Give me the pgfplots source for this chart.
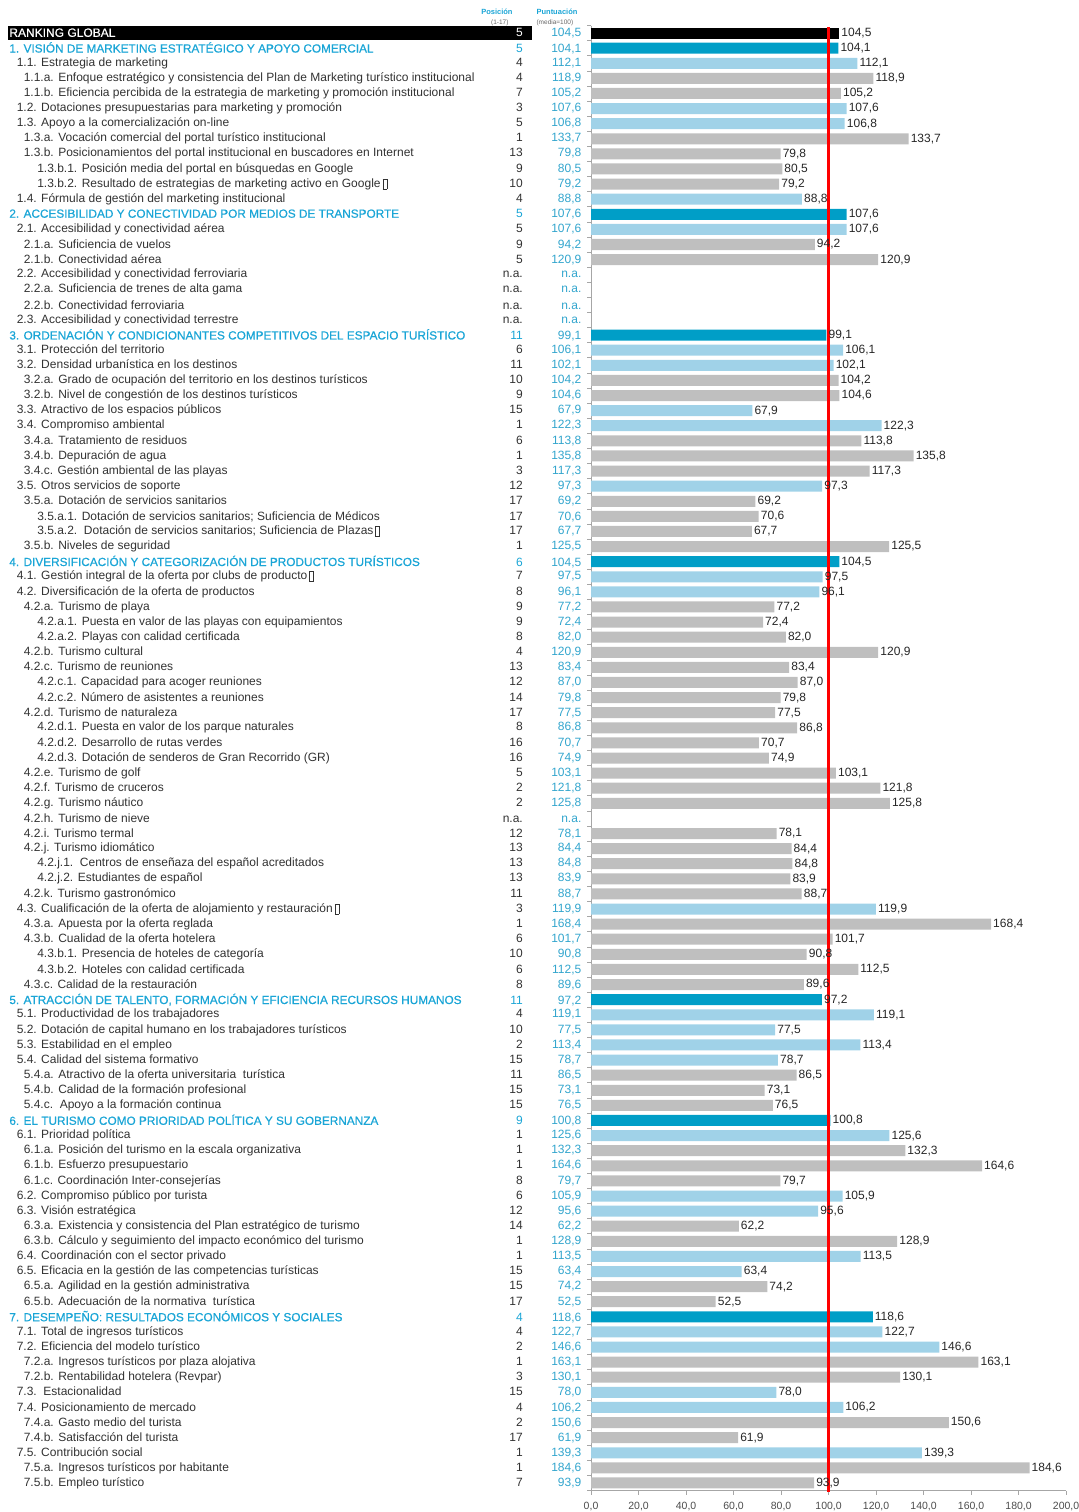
\documentclass[border=0pt]{standalone}
\usepackage{pgfplots}
\pgfplotsset{compat=1.18}
\usepackage{fontspec}
\setmainfont{Liberation Sans}
\definecolor{hdrbar}{RGB}{0,158,199}
\definecolor{lightbar}{RGB}{160,210,232}
\definecolor{graybar}{RGB}{191,191,191}
\definecolor{hblue}{RGB}{26,165,214}
\definecolor{sblue}{RGB}{50,165,205}
\definecolor{txt}{RGB}{50,50,50}
\newcommand{\nb}{\,\raisebox{-1.5pt}{\fboxsep=0pt\fboxrule=0.5pt\fbox{\rule{0pt}{9.5pt}\hspace{3.5pt}}}}
\newcommand{\rowL}[4]{\makebox[515pt][l]{\color{txt}\hspace*{#1}#2\hfill#3}\makebox[58.5pt][r]{\color{sblue}#4}}
\newcommand{\rA}[3]{\rowL{9pt}{#1}{#2}{#3}}
\newcommand{\rB}[3]{\rowL{16pt}{#1}{#2}{#3}}
\newcommand{\rC}[3]{\rowL{29.5pt}{#1}{#2}{#3}}
\newcommand{\rH}[3]{\makebox[515pt][l]{\color{hblue}\hspace*{1.6pt}{\fontsize{11.8}{13}\selectfont\addfontfeature{FakeBold=0.6}#1}\hfill#2}\makebox[58.5pt][r]{\color{sblue}#3}}
\newcommand{\rG}{\makebox[515pt][l]{\rlap{\color{black}\rule[-3pt]{524pt}{13.5pt}}\color{white}\hspace*{1.6pt}{\addfontfeature{FakeBold=0.6}RANKING GLOBAL}\hfill 5}\makebox[58.5pt][r]{\color{sblue}104,5}}
\begin{document}
\begin{tikzpicture}
\begin{axis}[
  scale only axis,
  width=475pt, height=1465pt,
  xmin=0, xmax=200,
  ymin=0.5, ymax=97.5,
  y dir=reverse,
  xbar, bar width=11pt, bar shift=0pt,
  clip=false,
  axis lines*=left,
  axis line style={draw=gray!70, line width=0.8pt, -},
  tick align=outside,
  major tick length=0pt,
  minor tick length=4pt,
  every tick/.style={draw=gray!70, line width=0.6pt},
  xtick={0,20,...,200},
  minor xtick={0,20,...,200},
  ytick={1,...,97},
  minor ytick={0.5,1.5,...,97.5},
  xticklabel style={font=\fontsize{10.5}{12}\selectfont, text=black!70, yshift=-8pt, /pgf/number format/.cd, fixed, fixed zerofill, precision=1, use comma, assume math mode=true},
  yticklabel style={font=\fontsize{12}{14}\selectfont, anchor=east, inner sep=0pt, xshift=-9.5pt},
  point meta=x,
  nodes near coords={\pgfmathprintnumber[fixed,fixed zerofill,precision=1,use comma,assume math mode=true]{\pgfplotspointmeta}},
  every node near coord/.append style={font=\fontsize{12}{14}\selectfont, text=black!85, inner sep=2pt},
  yticklabels={
{\rG},
{\rH{1. VISIÓN DE MARKETING ESTRATÉGICO Y APOYO COMERCIAL}{5}{104,1}},
{\rA{1.1. Estrategia de marketing}{4}{112,1}},
{\rB{1.1.a. Enfoque estratégico y consistencia del Plan de Marketing turístico institucional}{4}{118,9}},
{\rB{1.1.b. Eficiencia percibida de la estrategia de marketing y promoción institucional}{7}{105,2}},
{\rA{1.2. Dotaciones presupuestarias para marketing y promoción}{3}{107,6}},
{\rA{1.3. Apoyo a la comercialización on-line}{5}{106,8}},
{\rB{1.3.a. Vocación comercial del portal turístico institucional}{1}{133,7}},
{\rB{1.3.b. Posicionamientos del portal institucional en buscadores en Internet}{13}{79,8}},
{\rC{1.3.b.1. Posición media del portal en búsquedas en Google}{9}{80,5}},
{\rC{1.3.b.2. Resultado de estrategias de marketing activo en Google\nb}{10}{79,2}},
{\rA{1.4. Fórmula de gestión del marketing institucional}{4}{88,8}},
{\rH{2. ACCESIBILIDAD Y CONECTIVIDAD POR MEDIOS DE TRANSPORTE}{5}{107,6}},
{\rA{2.1. Accesibilidad y conectividad aérea}{5}{107,6}},
{\rB{2.1.a. Suficiencia de vuelos}{9}{94,2}},
{\rB{2.1.b. Conectividad aérea}{5}{120,9}},
{\rA{2.2. Accesibilidad y conectividad ferroviaria}{n.a.}{n.a.}},
{\rB{2.2.a. Suficiencia de trenes de alta gama}{n.a.}{n.a.}},
{\rB{2.2.b. Conectividad ferroviaria}{n.a.}{n.a.}},
{\rA{2.3. Accesibilidad y conectividad terrestre}{n.a.}{n.a.}},
{\rH{3. ORDENACIÓN Y CONDICIONANTES COMPETITIVOS DEL ESPACIO TURÍSTICO}{11}{99,1}},
{\rA{3.1. Protección del territorio}{6}{106,1}},
{\rA{3.2. Densidad urbanística en los destinos}{11}{102,1}},
{\rB{3.2.a. Grado de ocupación del territorio en los destinos turísticos}{10}{104,2}},
{\rB{3.2.b. Nivel de congestión de los destinos turísticos}{9}{104,6}},
{\rA{3.3. Atractivo de los espacios públicos}{15}{67,9}},
{\rA{3.4. Compromiso ambiental}{1}{122,3}},
{\rB{3.4.a. Tratamiento de residuos}{6}{113,8}},
{\rB{3.4.b. Depuración de agua}{1}{135,8}},
{\rB{3.4.c. Gestión ambiental de las playas}{3}{117,3}},
{\rA{3.5. Otros servicios de soporte}{12}{97,3}},
{\rB{3.5.a. Dotación de servicios sanitarios}{17}{69,2}},
{\rC{3.5.a.1. Dotación de servicios sanitarios; Suficiencia de Médicos}{17}{70,6}},
{\rC{3.5.a.2.\ \ Dotación de servicios sanitarios; Suficiencia de Plazas\nb}{17}{67,7}},
{\rB{3.5.b. Niveles de seguridad}{1}{125,5}},
{\rH{4. DIVERSIFICACIÓN Y CATEGORIZACIÓN DE PRODUCTOS TURÍSTICOS}{6}{104,5}},
{\rA{4.1. Gestión integral de la oferta por clubs de producto\nb}{7}{97,5}},
{\rA{4.2. Diversificación de la oferta de productos}{8}{96,1}},
{\rB{4.2.a. Turismo de playa}{9}{77,2}},
{\rC{4.2.a.1. Puesta en valor de las playas con equipamientos}{9}{72,4}},
{\rC{4.2.a.2. Playas con calidad certificada}{8}{82,0}},
{\rB{4.2.b. Turismo cultural}{4}{120,9}},
{\rB{4.2.c. Turismo de reuniones}{13}{83,4}},
{\rC{4.2.c.1. Capacidad para acoger reuniones}{12}{87,0}},
{\rC{4.2.c.2. Número de asistentes a reuniones}{14}{79,8}},
{\rB{4.2.d. Turismo de naturaleza}{17}{77,5}},
{\rC{4.2.d.1. Puesta en valor de los parque naturales}{8}{86,8}},
{\rC{4.2.d.2. Desarrollo de rutas verdes}{16}{70,7}},
{\rC{4.2.d.3. Dotación de senderos de Gran Recorrido (GR)}{16}{74,9}},
{\rB{4.2.e. Turismo de golf}{5}{103,1}},
{\rB{4.2.f. Turismo de cruceros}{2}{121,8}},
{\rB{4.2.g. Turismo náutico}{2}{125,8}},
{\rB{4.2.h. Turismo de nieve}{n.a.}{n.a.}},
{\rB{4.2.i. Turismo termal}{12}{78,1}},
{\rB{4.2.j. Turismo idiomático}{13}{84,4}},
{\rC{4.2.j.1.\ \ Centros de enseñaza del español acreditados}{13}{84,8}},
{\rC{4.2.j.2. Estudiantes de español}{13}{83,9}},
{\rB{4.2.k. Turismo gastronómico}{11}{88,7}},
{\rA{4.3. Cualificación de la oferta de alojamiento y restauración\nb}{3}{119,9}},
{\rB{4.3.a. Apuesta por la oferta reglada}{1}{168,4}},
{\rB{4.3.b. Cualidad de la oferta hotelera}{6}{101,7}},
{\rC{4.3.b.1. Presencia de hoteles de categoría}{10}{90,8}},
{\rC{4.3.b.2. Hoteles con calidad certificada}{6}{112,5}},
{\rB{4.3.c. Calidad de la restauración}{8}{89,6}},
{\rH{5. ATRACCIÓN DE TALENTO, FORMACIÓN Y EFICIENCIA RECURSOS HUMANOS}{11}{97,2}},
{\rA{5.1. Productividad de los trabajadores}{4}{119,1}},
{\rA{5.2. Dotación de capital humano en los trabajadores turísticos}{10}{77,5}},
{\rA{5.3. Estabilidad en el empleo}{2}{113,4}},
{\rA{5.4. Calidad del sistema formativo}{15}{78,7}},
{\rB{5.4.a. Atractivo de la oferta universitaria\ \ turística}{11}{86,5}},
{\rB{5.4.b. Calidad de la formación profesional}{15}{73,1}},
{\rB{5.4.c.\ \ Apoyo a la formación continua}{15}{76,5}},
{\rH{6. EL TURISMO COMO PRIORIDAD POLÍTICA Y SU GOBERNANZA}{9}{100,8}},
{\rA{6.1. Prioridad política}{1}{125,6}},
{\rB{6.1.a. Posición del turismo en la escala organizativa}{1}{132,3}},
{\rB{6.1.b. Esfuerzo presupuestario}{1}{164,6}},
{\rB{6.1.c. Coordinación Inter-consejerías}{8}{79,7}},
{\rA{6.2. Compromiso público por turista}{6}{105,9}},
{\rA{6.3. Visión estratégica}{12}{95,6}},
{\rB{6.3.a. Existencia y consistencia del Plan estratégico de turismo}{14}{62,2}},
{\rB{6.3.b. Cálculo y seguimiento del impacto económico del turismo}{1}{128,9}},
{\rA{6.4. Coordinación con el sector privado}{1}{113,5}},
{\rA{6.5. Eficacia en la gestión de las competencias turísticas}{15}{63,4}},
{\rB{6.5.a. Agilidad en la gestión administrativa}{15}{74,2}},
{\rB{6.5.b. Adecuación de la normativa\ \ turística}{17}{52,5}},
{\rH{7. DESEMPEÑO: RESULTADOS ECONÓMICOS Y SOCIALES}{4}{118,6}},
{\rA{7.1. Total de ingresos turísticos}{4}{122,7}},
{\rA{7.2. Eficiencia del modelo turístico}{2}{146,6}},
{\rB{7.2.a. Ingresos turísticos por plaza alojativa}{1}{163,1}},
{\rB{7.2.b. Rentabilidad hotelera (Revpar)}{3}{130,1}},
{\rA{7.3.\ \ Estacionalidad}{15}{78,0}},
{\rA{7.4. Posicionamiento de mercado}{4}{106,2}},
{\rB{7.4.a. Gasto medio del turista}{2}{150,6}},
{\rB{7.4.b. Satisfacción del turista}{17}{61,9}},
{\rA{7.5. Contribución social}{1}{139,3}},
{\rB{7.5.a. Ingresos turísticos por habitante}{1}{184,6}},
{\rB{7.5.b. Empleo turístico}{7}{93,9}}
  },
]
% global ranking
\addplot[fill=black, draw=none, bar shift=0pt] coordinates {(104.5,1)};
% main dimensions
\addplot[fill=hdrbar, draw=none, bar shift=0pt] coordinates {
(104.1,2) (107.6,13) (99.1,21) (104.5,36) (97.2,65) (100.8,73) (118.6,86)};
% sub-indicators
\addplot[fill=lightbar, draw=none, bar shift=0pt] coordinates {
(112.1,3) (107.6,6) (106.8,7) (88.8,12) (107.6,14) (106.1,22) (102.1,23)
(67.9,26) (122.3,27) (97.3,31) (97.5,37) (96.1,38) (119.9,59) (119.1,66)
(77.5,67) (113.4,68) (78.7,69) (125.6,74) (105.9,78) (95.6,79) (113.5,82)
(63.4,83) (122.7,87) (146.6,88) (78.0,91) (106.2,92) (139.3,95)};
% detail indicators
\addplot[fill=graybar, draw=none, bar shift=0pt] coordinates {
(118.9,4) (105.2,5) (133.7,8) (79.8,9) (80.5,10) (79.2,11) (94.2,15) (120.9,16)
(104.2,24) (104.6,25) (113.8,28) (135.8,29) (117.3,30) (69.2,32) (70.6,33)
(67.7,34) (125.5,35) (77.2,39) (72.4,40) (82.0,41) (120.9,42) (83.4,43)
(87.0,44) (79.8,45) (77.5,46) (86.8,47) (70.7,48) (74.9,49) (103.1,50)
(121.8,51) (125.8,52) (78.1,54) (84.4,55) (84.8,56) (83.9,57) (88.7,58)
(168.4,60) (101.7,61) (90.8,62) (112.5,63) (89.6,64) (86.5,70) (73.1,71)
(76.5,72) (132.3,75) (164.6,76) (79.7,77) (62.2,80) (128.9,81) (74.2,84)
(52.5,85) (163.1,89) (130.1,90) (150.6,93) (61.9,94) (184.6,96) (93.9,97)};
\draw[red, line width=2.4pt] (axis cs:100,0.6) -- (axis cs:100,97.6);
\end{axis}
\node[font=\bfseries\fontsize{7.5}{9}\selectfont, text=hblue, anchor=base east] at ([shift={(-75pt,11pt)}]current axis.north west) {Posición};
\node[font=\fontsize{6.5}{8}\selectfont, text=black!60, anchor=base east] at ([shift={(-79pt,1pt)}]current axis.north west) {(1-17)};
\node[font=\bfseries\fontsize{7.5}{9}\selectfont, text=hblue, anchor=base west] at ([shift={(-58pt,11pt)}]current axis.north west) {Puntuación};
\node[font=\fontsize{6.5}{8}\selectfont, text=black!60, anchor=base west] at ([shift={(-58pt,1pt)}]current axis.north west) {(media=100)};
\pgfresetboundingbox
\path ([shift={(-591pt,-21.5pt)}]current axis.south west) rectangle ([shift={(12pt,25.5pt)}]current axis.north east);
\end{tikzpicture}
\end{document}
